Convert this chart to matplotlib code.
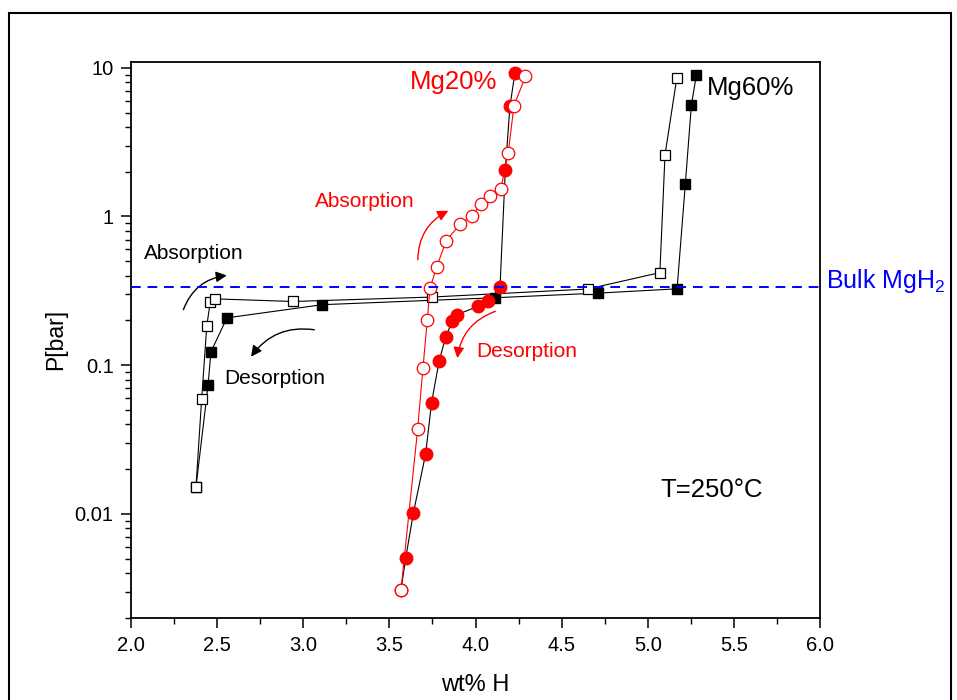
import matplotlib
matplotlib.use('Agg')
import matplotlib.pyplot as plt
from matplotlib.patches import Rectangle
from matplotlib.ticker import FixedLocator, LogLocator, NullFormatter, MultipleLocator

plt.rcParams['font.family'] = ['Liberation Sans', 'DejaVu Sans']
plt.rcParams['mathtext.default'] = 'regular'

# Mg60% sample (squares)
mg60_abs_x = [2.377, 2.41, 2.44, 2.46, 2.49, 2.94, 3.745, 4.65, 5.07, 5.10, 5.168]
mg60_abs_p = [0.0151, 0.059, 0.184, 0.267, 0.279, 0.268, 0.287, 0.325, 0.419, 2.60, 8.48]
mg60_des_x = [5.282, 5.253, 5.218, 5.17, 4.71, 4.113, 3.11, 2.557, 2.464, 2.447, 2.377]
mg60_des_p = [8.93, 5.62, 1.66, 0.326, 0.305, 0.284, 0.255, 0.208, 0.123, 0.073, 0.0151]

# Mg20% sample (circles)
mg20_abs_x = [3.567, 3.664, 3.695, 3.72, 3.736, 3.775, 3.829, 3.91, 3.978, 4.03,
              4.084, 4.146, 4.19, 4.223, 4.29]
mg20_abs_p = [0.00306, 0.0371, 0.096, 0.202, 0.33, 0.46, 0.684, 0.887, 1.01, 1.21,
              1.37, 1.52, 2.68, 5.56, 8.75]
mg20_des_x = [4.229, 4.20, 4.173, 4.142, 4.074, 4.012, 3.89, 3.865, 3.827, 3.788,
              3.745, 3.71, 3.639, 3.595, 3.567]
mg20_des_p = [9.3, 5.55, 2.07, 0.334, 0.268, 0.248, 0.218, 0.197, 0.155, 0.106,
              0.0559, 0.0252, 0.0101, 0.00507, 0.00306]

bulk_p = 0.338

fig = plt.figure(figsize=(9.57, 7), dpi=100)
ax = fig.add_axes([0.1369, 0.1176, 0.72, 0.7943])

# outer frame around the whole picture
fig.patches.append(Rectangle((9 / 957, -0.01), 942 / 957, 1 - 13 / 700 + 0.01,
                             transform=fig.transFigure, fill=False,
                             edgecolor='black', linewidth=1.5))

# Mg60%
ax.plot(mg60_des_x, mg60_des_p, color='black', lw=0.8, marker='s', ms=7.5,
        mfc='black', mec='black', zorder=3)
ax.plot(mg60_abs_x, mg60_abs_p, color='black', lw=0.8, marker='s', ms=7.5,
        mfc='white', mec='black', mew=0.9, zorder=3)

# Mg20%
ax.plot(mg20_des_x, mg20_des_p, color='black', lw=0.8, marker='o', ms=9,
        mfc='red', mec='red', zorder=4)
ax.plot(mg20_abs_x, mg20_abs_p, color='red', lw=0.8, marker='o', ms=9,
        mfc='white', mec='red', mew=0.9, zorder=4)

ax.axhline(bulk_p, color='blue', lw=1.4, dashes=(5, 3.5), zorder=5)

ax.set_xlim(2.0, 6.0)
ax.set_yscale('log')
ax.set_ylim(0.002, 11)

ax.xaxis.set_major_locator(MultipleLocator(0.5))
ax.xaxis.set_minor_locator(MultipleLocator(0.25))
ax.set_xticks([2.0, 2.5, 3.0, 3.5, 4.0, 4.5, 5.0, 5.5, 6.0])
ax.set_xticklabels(['2.0', '2.5', '3.0', '3.5', '4.0', '4.5', '5.0', '5.5', '6.0'])
ax.yaxis.set_major_locator(FixedLocator([0.01, 0.1, 1, 10]))
ax.set_yticklabels(['0.01', '0.1', '1', '10'])
ax.yaxis.set_minor_locator(LogLocator(base=10, subs=[2, 3, 4, 5, 6, 7, 8, 9]))
ax.yaxis.set_minor_formatter(NullFormatter())

ax.tick_params(which='major', direction='out', length=7.5, width=1.1,
               labelsize=14.5, top=False, right=False)
ax.tick_params(which='minor', direction='out', length=4, width=1.0,
               top=False, right=False)
ax.tick_params(axis='x', which='major', pad=6)
ax.tick_params(axis='y', which='major', pad=5)
for s in ax.spines.values():
    s.set_linewidth(1.3)

ax.set_xlabel('wt% H', fontsize=17)
ax.set_ylabel('P[bar]', fontsize=16.5)
ax.xaxis.set_label_coords(0.499, -0.101)
ax.yaxis.set_label_coords(-0.093, 0.501)

# labels
ax.text(3.874, 7.20, 'Mg20%', color='red', fontsize=18.5, ha='center', va='baseline')
ax.text(5.599, 6.59, 'Mg60%', color='black', fontsize=18.5, ha='center', va='baseline')
ax.text(3.358, 1.167, 'Absorption', color='red', fontsize=15, ha='center', va='baseline')
ax.text(4.295, 0.113, 'Desorption', color='red', fontsize=15, ha='center', va='baseline')
ax.text(2.363, 0.519, 'Absorption', color='black', fontsize=15, ha='center', va='baseline')
ax.text(2.836, 0.0748, 'Desorption', color='black', fontsize=15, ha='center', va='baseline')
ax.text(5.373, 0.01293, 'T=250\u00b0C', color='black', fontsize=18.5, ha='center', va='baseline')
ax.text(6.035, 0.33, 'Bulk MgH$_2$', color='blue', fontsize=18, ha='left', va='baseline',
        clip_on=False)

# curved arrows
arrow_kw = dict(arrowstyle='-|>', lw=1.0, mutation_scale=16, shrinkA=0, shrinkB=0)
ax.annotate('', xy=(3.842, 1.092), xytext=(3.665, 0.511),
            arrowprops=dict(color='red', connectionstyle='arc3,rad=-0.3', **arrow_kw))
ax.annotate('', xy=(2.556, 0.401), xytext=(2.304, 0.236),
            arrowprops=dict(color='black', connectionstyle='arc3,rad=-0.3', **arrow_kw))
ax.annotate('', xy=(3.894, 0.1115), xytext=(4.115, 0.230),
            arrowprops=dict(color='red', connectionstyle='arc3,rad=0.3', **arrow_kw))
ax.annotate('', xy=(2.697, 0.114), xytext=(3.064, 0.173),
            arrowprops=dict(color='black', connectionstyle='arc3,rad=0.3', **arrow_kw))

fig.savefig('out.png', dpi=100)
